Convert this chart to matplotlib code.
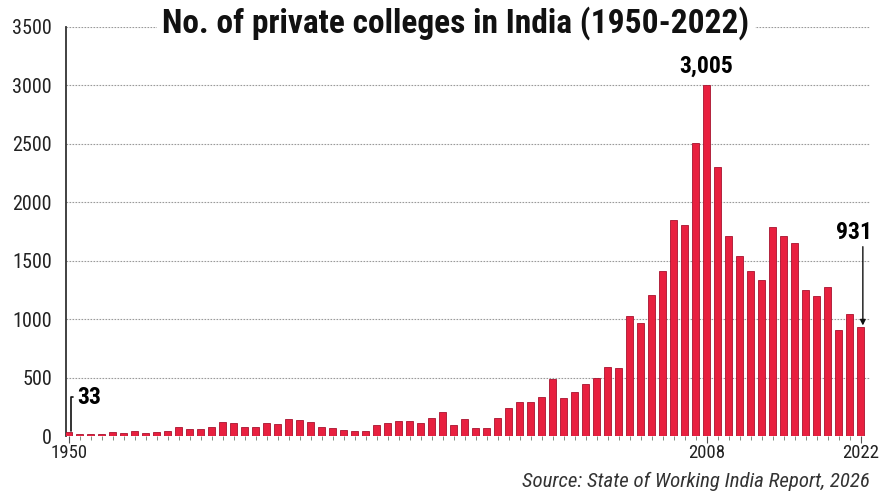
import matplotlib
matplotlib.use("Agg")
import matplotlib.pyplot as plt
from matplotlib import font_manager
import numpy as np

# pick a narrow font if there is one
names = set(f.name for f in font_manager.fontManager.ttflist)
narrow = "DejaVu Sans"
for cand in ["Liberation Sans Narrow", "DejaVu Sans Condensed", "Roboto Condensed", "Open Sans Condensed"]:
    if cand in names:
        narrow = cand
        break
plt.rcParams['font.family'] = [narrow, "DejaVu Sans"]

years = list(range(1950, 2023))
colleges = [33, 14, 14, 14, 31, 23, 46, 26, 34, 40,
            74, 60, 60, 74, 120, 109, 77, 74, 111, 100,
            143, 134, 122, 77, 72, 50, 40, 40, 96, 110,
            132, 132, 110, 152, 203, 96, 147, 70, 72, 156,
            242, 293, 293, 336, 490, 321, 379, 442, 499, 594,
            585, 1030, 966, 1205, 1413, 1852, 1806, 2506, 3005, 2306,
            1709, 1543, 1409, 1337, 1786, 1709, 1651, 1249, 1200, 1271,
            909, 1043, 931]
yticks = [0, 500, 1000, 1500, 2000, 2500, 3000, 3500]
xlabels = {1950: "1950", 2008: "2008", 2022: "2022"}

title = "No. of private colleges in India (1950-2022)"
source = "Source: State of Working India Report, 2026"

fig = plt.figure(figsize=(8.85, 4.94), dpi=100)
ax = fig.add_axes([66/885, 58/494, 804/885, 409/494])

ax.bar(years, colleges, width=0.62, color="#e8203f", edgecolor="#a8122e", linewidth=0.6, zorder=3)

ax.set_xlim(1949.75, 2022.85)
ax.set_ylim(0, 3500)
ax.set_yticks(yticks)
ax.set_yticklabels([str(v) for v in yticks], fontsize=14.5, color="#222222")
ax.tick_params(axis="y", length=0, pad=10)
for v in yticks[1:]:
    ax.axhline(v, color="#9a9a9a", linestyle=(0, (1.5, 1.2)), linewidth=0.8, zorder=1)

ax.set_xticks(list(xlabels.keys()))
ax.set_xticklabels(list(xlabels.values()), fontsize=13.5, color="#222222")
ax.set_xticks(years, minor=True)
ax.tick_params(axis="x", which="major", length=5, width=0.8, color="#555555", pad=1)
ax.tick_params(axis="x", which="minor", length=3, width=0.6, color="#6a7a6a")

for s in ["top", "right", "bottom"]:
    ax.spines[s].set_visible(False)
ax.spines["left"].set_color("#333333")
ax.spines["left"].set_linewidth(1.3)

# labels on bars
ax.text(2008, 3005 + 60, "3,005", ha="center", va="bottom", fontsize=17, fontweight="bold", zorder=5)

ax.text(2021.4, 1640, "931", ha="center", va="bottom", fontsize=17, fontweight="bold")
ax.annotate("", xy=(2022.2, 931 + 15), xytext=(2022.2, 1620),
            arrowprops=dict(arrowstyle="-|>", color="#111111", lw=1, mutation_scale=8,
                            shrinkA=0, shrinkB=0))

ax.annotate("33", xy=(1950.2, 33 + 10), xytext=(1950.8, 330), ha="left", va="center",
            fontsize=17, fontweight="bold",
            arrowprops=dict(arrowstyle="-", color="#111111", lw=1.2,
                            connectionstyle="angle,angleA=0,angleB=90,rad=0",
                            shrinkA=1, shrinkB=0))

fig.text(456/885, 1 - 23/494, title, ha="center", va="center", fontsize=24, fontweight="bold",
         color="#111111", bbox=dict(facecolor="white", edgecolor="none", pad=4), zorder=10)
fig.text(870/885, 1 - 481/494, source, ha="right", va="center", fontsize=15, style="italic",
         color="#333333")

fig.savefig("out.png", dpi=100)
